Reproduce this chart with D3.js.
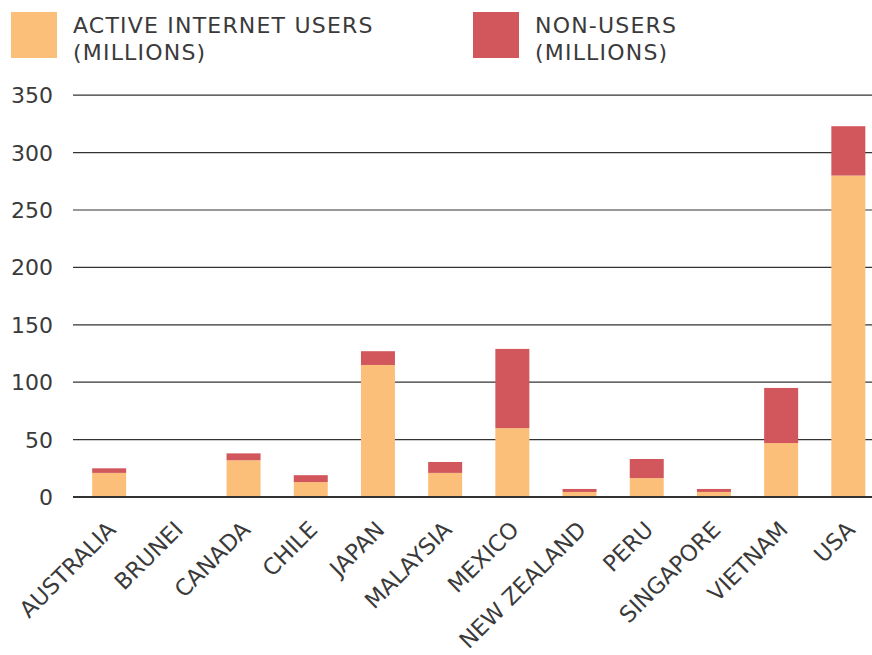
<!DOCTYPE html>
<html>
<head>
<meta charset="utf-8">
<script src="https://cdn.jsdelivr.net/npm/d3@7"></script>
<style>
  body { margin: 0; background: #fff; }
  text { font-family: "DejaVu Sans", sans-serif; fill: #3a3a3a; }
</style>
</head>
<body>
<div class="graph"><svg></svg></div>
<script>
// chart data
const countries = ['AUSTRALIA', 'BRUNEI', 'CANADA', 'CHILE', 'JAPAN', 'MALAYSIA',
  'MEXICO', 'NEW ZEALAND', 'PERU', 'SINGAPORE', 'VIETNAM', 'USA']
const activeUsers = [21, 0.3, 32, 13, 115, 21, 60, 4.4, 16.5, 4.4, 47, 280]
const nonUsers = [4, 0.1, 6, 6, 12, 9.5, 69, 2.6, 16.6, 2.6, 48, 43]
const yTicks = [0, 50, 100, 150, 200, 250, 300, 350]
const seriesNames = ['ACTIVE INTERNET USERS|(MILLIONS)', 'NON-USERS|(MILLIONS)']
const colors = ['#fbbf7a', '#d2575c']

const width = 872
const height = 655

const svg = d3.select('.graph').select('svg')
  .attr('width', width)
  .attr('height', height)

const rows = countries.map((c, i) => ({ country: c, users: activeUsers[i], non: nonUsers[i] }))
const stack = d3.stack().keys(['users', 'non'])(rows)

const x = d3.scaleBand()
  .domain(countries)
  .range([72, 885.5])
  .paddingInner(0.494)
  .paddingOuter(0.3)

const y = d3.scaleLinear()
  .domain([0, 350])
  .range([497, 95.2])

// grid lines + y labels
const grid = svg.append('g').attr('class', 'y axis')
grid.selectAll('line')
  .data(yTicks.filter(d => d !== 0))
  .join('line')
  .attr('x1', 73)
  .attr('x2', width)
  .attr('y1', d => y(d))
  .attr('y2', d => y(d))
  .attr('stroke', '#333')
  .attr('stroke-width', 1.2)

grid.selectAll('text')
  .data(yTicks)
  .join('text')
  .attr('x', 53)
  .attr('y', d => y(d))
  .attr('dy', '0.36em')
  .attr('text-anchor', 'end')
  .attr('font-size', 22)
  .text(d => d)

// bars
svg.append('g')
  .selectAll('g')
  .data(stack)
  .join('g')
  .attr('fill', (d, i) => colors[i])
  .selectAll('rect')
  .data(d => d)
  .join('rect')
  .attr('x', d => x(d.data.country))
  .attr('width', x.bandwidth())
  .attr('y', d => y(d[1]))
  .attr('height', d => y(d[0]) - y(d[1]))

// zero line on top of the bars
svg.append('line')
  .attr('x1', 73)
  .attr('x2', width)
  .attr('y1', y(0))
  .attr('y2', y(0))
  .attr('stroke', '#333')
  .attr('stroke-width', 2.2)

// x labels
svg.append('g')
  .attr('class', 'x axis')
  .selectAll('text')
  .data(countries)
  .join('text')
  .attr('transform', d => 'translate(' + (x(d) + x.bandwidth() / 2 + 8) + ',' + 531 + ') rotate(-45)')
  .attr('text-anchor', 'end')
  .attr('font-size', 22.5)
  .text(d => d)

// legend
const legendX = [11, 473]
const legend = svg.append('g')
seriesNames.forEach((name, i) => {
  legend.append('rect')
    .attr('x', legendX[i])
    .attr('y', 12)
    .attr('width', 46)
    .attr('height', 46)
    .attr('fill', colors[i])
  name.split('|').forEach((line, j) => {
    legend.append('text')
      .attr('x', legendX[i] + 62)
      .attr('y', 33 + j * 27)
      .attr('font-size', 22)
      .attr('letter-spacing', 1.2)
      .text(line)
  })
})
</script>
</body>
</html>
